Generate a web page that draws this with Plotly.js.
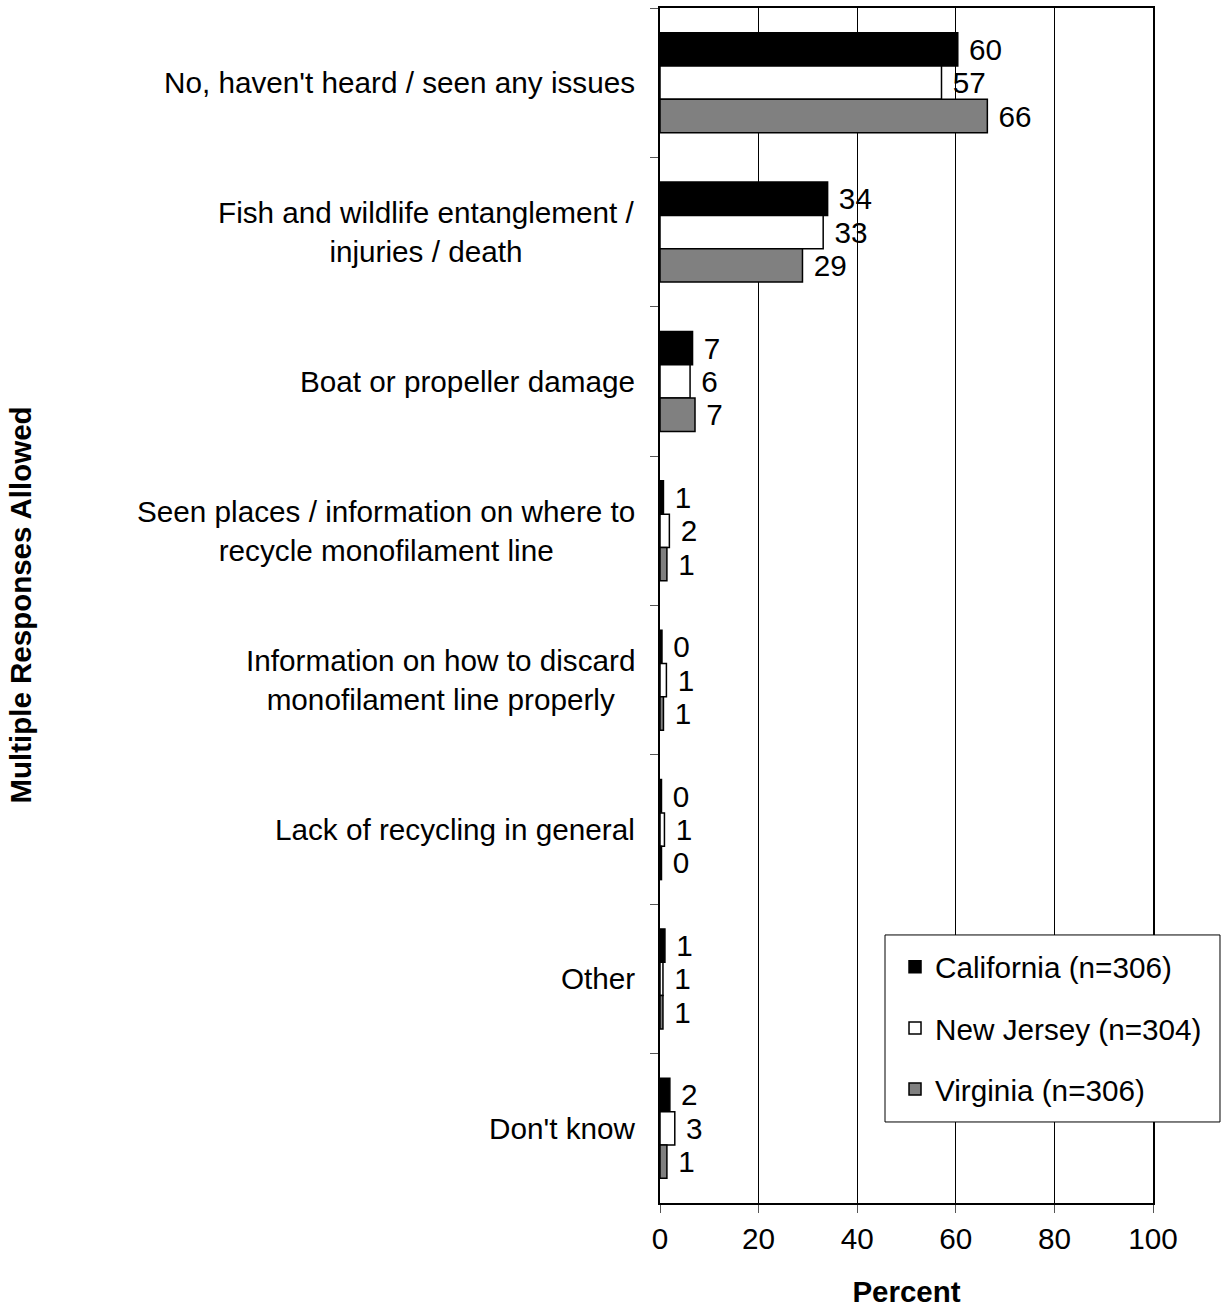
<!DOCTYPE html>
<html>
<head>
<meta charset="utf-8">
<script src="https://cdn.plot.ly/plotly-3.0.1.min.js"></script>
<style>html,body{margin:0;padding:0;background:#fff;}#chart{width:1224px;height:1312px;}</style>
</head>
<body>
<div id="chart"></div>
<script>
const categories = [
  "No, haven't heard / seen any issues",
  "Fish and wildlife entanglement / injuries / death",
  "Boat or propeller damage",
  "Seen places / information on where to recycle monofilament line",
  "Information on how to discard monofilament line properly",
  "Lack of recycling in general",
  "Other",
  "Don't know"
];
const categoryLabels = [
  "No, haven't heard / seen any issues",
  "Fish and wildlife entanglement /<br>injuries / death",
  "Boat or propeller damage",
  "Seen places / information on where to<br>recycle monofilament line",
  "Information on how to discard<br>monofilament line properly",
  "Lack of recycling in general",
  "Other",
  "Don't know"
];
const seriesNames = ["California (n=306)", "New Jersey (n=304)", "Virginia (n=306)"];
const california = [60.4, 34.0, 6.6, 0.7, 0.4, 0.3, 1.0, 2.0];
const newJersey  = [57.1, 33.1, 6.1, 1.9, 1.3, 0.9, 0.6, 3.0];
const virginia   = [66.4, 28.9, 7.1, 1.4, 0.7, 0.3, 0.6, 1.4];
const xTicks = [0, 20, 40, 60, 80, 100];

const FONT = "Liberation Sans, Arial, sans-serif";
const FS = 29.7;
const colors = ["#000000", "#ffffff", "#808080"];
const seriesValues = [california, newJersey, virginia];

const traces = seriesValues.map((vals, i) => ({
  type: "bar",
  orientation: "h",
  name: seriesNames[i],
  legendgroup: "g" + i,
  x: vals,
  y: categories,
  marker: {color: colors[i], line: {color: "#000", width: 1.5}},
  texttemplate: " %{x:.0f}",
  textposition: "outside",
  constraintext: "none",
  cliponaxis: false,
  textfont: {family: FONT, size: FS, color: "#000"},
  hoverinfo: "skip"
}));

const annotations = categories.map((c, i) => ({
  xref: "paper", yref: "y",
  x: -0.047, y: c,
  xanchor: "right", yanchor: "middle",
  align: "center",
  text: categoryLabels[i],
  showarrow: false,
  font: {family: FONT, size: FS, color: "#000"}
}));
annotations.push({
  xref: "paper", yref: "paper",
  x: -1.298, y: 0.5,
  xanchor: "center", yanchor: "middle",
  textangle: -90,
  text: "<b>Multiple Responses Allowed</b>",
  showarrow: false,
  font: {family: FONT, size: 29.5, color: "#000"}
});

const layout = {
  width: 1224, height: 1312,
  margin: {l: 660, r: 71, t: 8, b: 109, autoexpand: false},
  paper_bgcolor: "#fff", plot_bgcolor: "#fff",
  barmode: "group",
  bargap: 0.33,
  bargroupgap: 0,
  showlegend: true,
  legend: {
    x: 0.4767, y: 0.2192, xanchor: "left", yanchor: "top",
    bgcolor: "rgba(0,0,0,0)", borderwidth: 0,
    font: {family: FONT, size: FS, color: "#000"},
    tracegroupgap: 19.5,
    traceorder: "grouped"
  },
  shapes: [{
    type: "rect", xref: "paper", yref: "paper",
    x0: 0.4564, x1: 1.1359, y0: 0.0678, y1: 0.2243,
    line: {color: "#000", width: 1}, fillcolor: "#fff", layer: "above"
  }],
  xaxis: {
    range: [0, 100],
    tickvals: xTicks,
    ticktext: xTicks.map(String),
    ticks: "outside", ticklen: 8, tickcolor: "#555", tickwidth: 1,
    showgrid: true, gridcolor: "#000", gridwidth: 1,
    showline: true, linecolor: "#000", linewidth: 2, mirror: true,
    zeroline: false,
    tickfont: {family: FONT, size: FS, color: "#000"},
    title: {text: "<b>Percent</b>", font: {family: FONT, size: 29.5, color: "#000"}, standoff: 28},
    fixedrange: true
  },
  yaxis: {
    type: "category",
    autorange: "reversed",
    showticklabels: false,
    ticks: "outside", ticklen: 8, tickcolor: "#555", tickwidth: 1,
    tickson: "boundaries",
    showgrid: false,
    showline: true, linecolor: "#000", linewidth: 2, mirror: true,
    zeroline: false,
    fixedrange: true
  },
  annotations: annotations,
  font: {family: FONT, color: "#000"}
};

Plotly.newPlot("chart", traces, layout, {staticPlot: true, displayModeBar: false});
</script>
</body>
</html>
